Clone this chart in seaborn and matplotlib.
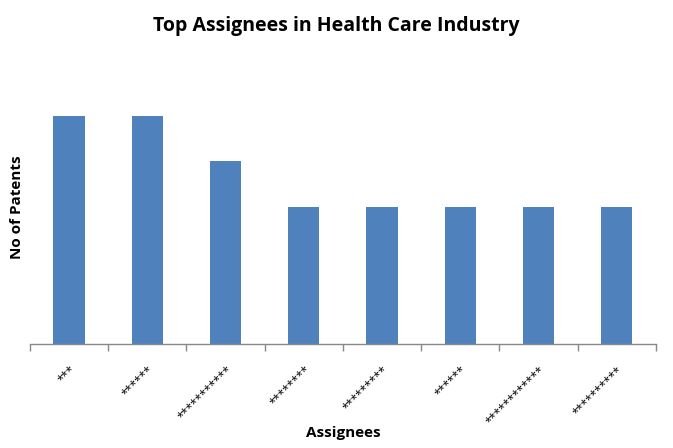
import pandas as pd
import matplotlib.pyplot as plt
import seaborn as sns
from matplotlib.ticker import FixedLocator

# Chart data
assignees = ['***', '******', '***********', '********', '*********',
             '******', '************', '**********']
patents = [5, 5, 4, 3, 3, 3, 3, 3]

df = pd.DataFrame({'Assignees': assignees, 'Patents': patents})
df['pos'] = range(len(df))

sns.set_style('white')
plt.rcParams['font.family'] = ['Open Sans', 'DejaVu Sans']
plt.rcParams['text.color'] = 'black'
plt.rcParams['axes.labelcolor'] = 'black'

fig = plt.figure(figsize=(6.73, 4.48), dpi=100)
ax = fig.add_axes([0.0446, 0.232, 0.930, 0.612])

sns.barplot(x='pos', y='Patents', data=df, color='#4F81BD', width=0.4,
            saturation=1, ax=ax, order=list(range(len(df))), linewidth=0)

ax.set_ylim(0, 6)
ax.set_xlim(-0.5, len(df) - 0.5)
ax.set_yticks([])
for s in ['left', 'top', 'right']:
    ax.spines[s].set_visible(False)
ax.spines['bottom'].set_color('#888888')
ax.spines['bottom'].set_linewidth(1)

# labels at centres, tick marks at category boundaries
ax.set_xticks(range(len(df)))
ax.set_xticklabels(assignees, rotation=45, ha='right', rotation_mode='anchor',
                   fontsize=8.5, color='black')
ax.tick_params(axis='x', which='major', length=0, pad=14)
ax.xaxis.set_minor_locator(FixedLocator([i - 0.5 for i in range(len(df) + 1)]))
ax.tick_params(axis='x', which='minor', length=5, color='#888888', width=1,
               direction='out', bottom=True)

ax.set_xlabel('Assignees', fontsize=11, fontweight='bold')
ax.xaxis.label.set_va('center')
ax.xaxis.set_label_coords(0.5, -0.325)
ax.set_ylabel('No of Patents', fontsize=11, fontweight='bold')
ax.yaxis.label.set_va('center')
ax.yaxis.set_label_coords(-0.021, 0.5)
fig.suptitle('Top Assignees in Health Care Industry', fontsize=14,
             fontweight='bold', y=0.965)

fig.savefig('out.png', dpi=100)
